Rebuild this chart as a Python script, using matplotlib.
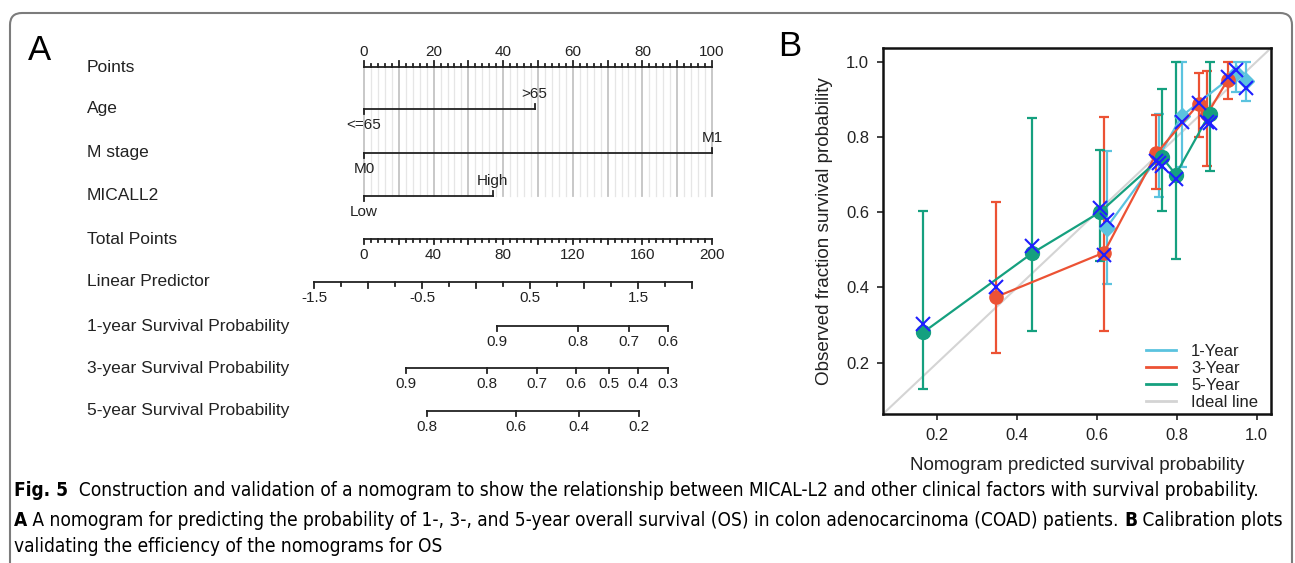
import matplotlib
matplotlib.use("Agg")
import matplotlib.pyplot as plt
from matplotlib import font_manager
from matplotlib.patches import FancyBboxPatch
from matplotlib.transforms import IdentityTransform
from matplotlib.lines import Line2D

# ---------------- Panel A: nomogram scales ----------------
points_labels = [0, 20, 40, 60, 80, 100]
age_levels = ["<=65", ">65"]
age_points = [0, 49]
mstage_levels = ["M0", "M1"]
mstage_points = [0, 100]
micall2_levels = ["Low", "High"]
micall2_points = [0, 37]
total_labels = [0, 40, 80, 120, 160, 200]
lp_ticks = [-1.5, -1.25, -1.0, -0.75, -0.5, -0.25, 0.0, 0.25, 0.5,
            0.75, 1.0, 1.25, 1.5, 1.75, 2.0]
lp_labels = [-1.5, -0.5, 0.5, 1.5]
lp_at_total = (-1.037, 2.185)          # linear predictor at total points 0 and 200

surv1_labels = [0.9, 0.8, 0.7, 0.6]
surv1_lp = [0.194, 0.944, 1.417, 1.778]
surv3_labels = [0.9, 0.8, 0.7, 0.6, 0.5, 0.4, 0.3]
surv3_lp = [-0.648, 0.102, 0.565, 0.926, 1.231, 1.500, 1.778]
surv5_labels = [0.8, 0.6, 0.4, 0.2]
surv5_lp = [-0.454, 0.370, 0.954, 1.509]

# ---------------- Panel B: calibration curves ----------------
cal1_x = [0.624, 0.755, 0.812, 0.949, 0.974]
cal1_y = [0.559, 0.748, 0.855, 0.970, 0.948]
cal1_lo = [0.408, 0.640, 0.720, 0.920, 0.895]
cal1_hi = [0.762, 0.860, 1.000, 1.000, 1.000]
cal1_bc = [0.580, 0.730, 0.840, 0.978, 0.930]

cal3_x = [0.3475, 0.6175, 0.749, 0.855, 0.876, 0.928]
cal3_y = [0.375, 0.4925, 0.756, 0.888, 0.860, 0.952]
cal3_lo = [0.225, 0.284, 0.662, 0.800, 0.722, 0.900]
cal3_hi = [0.627, 0.853, 0.858, 0.970, 0.975, 1.000]
cal3_bc = [0.400, 0.485, 0.735, 0.890, 0.840, 0.960]

cal5_x = [0.165, 0.4375, 0.6075, 0.762, 0.7975, 0.8825]
cal5_y = [0.281, 0.491, 0.600, 0.747, 0.700, 0.862]
cal5_lo = [0.130, 0.284, 0.470, 0.603, 0.475, 0.709]
cal5_hi = [0.602, 0.851, 0.765, 0.926, 1.000, 1.000]
cal5_bc = [0.302, 0.509, 0.610, 0.722, 0.687, 0.838]

c1, c3, c5 = "#5bc3df", "#ec5234", "#15a07f"

W, H = 1295, 563
FONT = "Liberation Sans"
INK = "#222222"

fig = plt.figure(figsize=(W / 100, H / 100), dpi=100)
fig.patch.set_facecolor("white")

# full-figure axes: x in "Points" units, y in pixels from the top
X0, PX = 364, 3.48
ax = fig.add_axes([0, 0, 1, 1])
ax.set_xlim(-X0 / PX, (W - X0) / PX)
ax.set_ylim(H, 0)
ax.axis("off")


def xp(pix):
    return (pix - X0) / PX


def lp_to_pts(v):
    return (v - lp_at_total[0]) / (lp_at_total[1] - lp_at_total[0]) * 100


lab_kw = dict(fontsize=12.5, family=FONT, color=INK, va="center", ha="left")
tick_kw = dict(fontsize=11, family=FONT, color=INK, va="center", ha="center")
lw = 1.3

rows = {"Points": 67, "Age": 109, "M stage": 153, "MICALL2": 196,
        "Total Points": 239, "Linear Predictor": 282,
        "1-year Survival Probability": 326, "3-year Survival Probability": 368,
        "5-year Survival Probability": 411}
for name, y in rows.items():
    ax.text(xp(87), y, name, **lab_kw)

# vertical grid under the points scale
for p in range(0, 101, 2):
    major = p % 10 == 0
    ax.plot([p, p], [rows["Points"], rows["MICALL2"]],
            color="#c4c4c4" if major else "#e6e6e6",
            lw=1.3 if major else 0.9, zorder=0)

# Points axis (ticks point up)
y = rows["Points"]
ax.plot([0, 100], [y, y], color=INK, lw=lw)
for p in range(0, 101, 2):
    ln = 6 if p % 10 == 0 else 3
    ax.plot([p, p], [y, y - ln], color=INK, lw=lw)
for p in points_labels:
    ax.text(p, y - 15, str(p), **tick_kw)

# categorical rows
for (levels, pts), name in zip([(age_levels, age_points), (mstage_levels, mstage_points),
                                (micall2_levels, micall2_points)],
                               ["Age", "M stage", "MICALL2"]):
    y = rows[name]
    ax.plot([pts[0], pts[1]], [y, y], color=INK, lw=lw)
    ax.plot([pts[0], pts[0]], [y, y + 5], color=INK, lw=lw)
    ax.plot([pts[1], pts[1]], [y, y - 5], color=INK, lw=lw)
    ax.text(pts[0], y + 16, levels[0], **tick_kw)
    ax.text(pts[1], y - 15, levels[1], **tick_kw)

# Total points axis (ticks down)
y = rows["Total Points"]
ax.plot([0, 100], [y, y], color=INK, lw=lw)
for t in range(0, 201, 4):
    ln = 5 if t % 20 == 0 else 3
    ax.plot([t / 2, t / 2], [y, y + ln], color=INK, lw=lw)
for t in total_labels:
    ax.text(t / 2, y + 16, str(t), **tick_kw)

# Linear predictor
y = rows["Linear Predictor"]
ax.plot([lp_to_pts(lp_ticks[0]), lp_to_pts(lp_ticks[-1])], [y, y], color=INK, lw=lw)
for i, v in enumerate(lp_ticks):
    ln = 6 if i % 2 == 0 else 3.5
    ax.plot([lp_to_pts(v)] * 2, [y, y + ln], color=INK, lw=lw)
for v in lp_labels:
    ax.text(lp_to_pts(v), y + 16, f"{v:g}", **tick_kw)

# survival probability scales
for name, labs, lps in [("1-year Survival Probability", surv1_labels, surv1_lp),
                        ("3-year Survival Probability", surv3_labels, surv3_lp),
                        ("5-year Survival Probability", surv5_labels, surv5_lp)]:
    y = rows[name]
    xs = [lp_to_pts(v) for v in lps]
    ax.plot([xs[0], xs[-1]], [y, y], color=INK, lw=lw)
    for xv, lb in zip(xs, labs):
        ax.plot([xv, xv], [y, y + 5], color=INK, lw=lw)
        ax.text(xv, y + 16, f"{lb:g}", **tick_kw)

ax.text(xp(28), 50, "A", fontsize=25, family=FONT, color="black", va="center", ha="left")
ax.text(xp(778), 47, "B", fontsize=25, family=FONT, color="black", va="center", ha="left")

# ---------------- Panel B ----------------
bx = fig.add_axes([883 / W, 1 - 414 / H, (1271 - 883) / W, (414 - 48) / H])
bx.set_xlim(0.064, 1.036)
bx.set_ylim(0.064, 1.036)
bx.plot([0, 1.1], [0, 1.1], color="#d4d4d4", lw=1.5, zorder=1)

for xs, ys, lo, hi, bc, col, mk, ms in [
        (cal1_x, cal1_y, cal1_lo, cal1_hi, cal1_bc, c1, "D", 8),
        (cal3_x, cal3_y, cal3_lo, cal3_hi, cal3_bc, c3, "o", 9.5),
        (cal5_x, cal5_y, cal5_lo, cal5_hi, cal5_bc, c5, "o", 10)]:
    yerr = [[yv - l for yv, l in zip(ys, lo)], [h - yv for yv, h in zip(ys, hi)]]
    bx.errorbar(xs, ys, yerr=yerr, fmt="none", ecolor=col, elinewidth=1.6,
                capsize=3.5, capthick=1.6, zorder=2)
    bx.plot(xs, ys, color=col, lw=1.6, marker=mk, ms=ms, mec=col, mfc=col, zorder=3)
    bx.plot(xs, bc, ls="none", marker="x", ms=10.5, mew=1.5, color="#1f1fff", zorder=4)

handles = [Line2D([], [], color=c, lw=2) for c in (c1, c3, c5, "#d4d4d4")]
bx.legend(handles, ["1-Year", "3-Year", "5-Year", "Ideal line"], loc="lower right",
          bbox_to_anchor=(1.005, -0.03), frameon=False, handlelength=1.8, handletextpad=0.9,
          labelspacing=0.12, prop={"family": FONT, "size": 12}, labelcolor=INK)

bx.set_xticks([0.2, 0.4, 0.6, 0.8, 1.0])
bx.set_yticks([0.2, 0.4, 0.6, 0.8, 1.0])
bx.set_xticklabels(["0.2", "0.4", "0.6", "0.8", "1.0"])
bx.set_yticklabels(["0.2", "0.4", "0.6", "0.8", "1.0"])
for lab in bx.get_xticklabels() + bx.get_yticklabels():
    lab.set_family(FONT)
    lab.set_fontsize(12)
    lab.set_color(INK)
bx.tick_params(length=4, width=1.2, color=INK, pad=6)
for sp in bx.spines.values():
    sp.set_linewidth(1.8)
    sp.set_color("#111111")
bx.set_xlabel("Nomogram predicted survival probability", family=FONT, fontsize=13.6,
              color=INK, labelpad=10)
bx.set_ylabel("Observed fraction survival probability", family=FONT, fontsize=13.6,
              color=INK, labelpad=9)

# ---------------- frame and caption ----------------
frame = FancyBboxPatch((10, -40), 1282, H - 13 + 40,
                       boxstyle="round,pad=0,rounding_size=12",
                       transform=IdentityTransform(), fill=False,
                       ec="#7c7c7c", lw=1.5)
fig.add_artist(frame)

names = {(f.name, f.stretch) for f in font_manager.fontManager.ttflist}
cap_kw = {"family": FONT}
if any(n == "Liberation Sans Narrow" for n, s in names):
    cap_kw = {"family": "Liberation Sans Narrow"}
elif ("DejaVu Sans", "condensed") in names:
    cap_kw = {"family": "DejaVu Sans", "stretch": "condensed"}

caption = [
    (491, 1272, [("Fig. 5", "bold"), ("  Construction and validation of a nomogram to show the relationship "
                                      "between MICAL-L2 and other clinical factors with survival probability.",
                                      "normal")]),
    (520, 1269, [("A", "bold"), (" A nomogram for predicting the probability of 1-, 3-, and 5-year overall "
                                 "survival (OS) in colon adenocarcinoma (COAD) patients. ", "normal"),
                 ("B", "bold"), (" Calibration plots", "normal")]),
    (546, None, [("validating the efficiency of the nomograms for OS", "normal")]),
]

renderer = fig.canvas.get_renderer()


def put_line(ypix, runs, size):
    x = 14
    arts = []
    for txt, wt in runs:
        t = fig.text(x / W, 1 - ypix / H, txt, fontsize=size, weight=wt, color="black",
                     va="center", ha="left", **cap_kw)
        x += t.get_window_extent(renderer).width
        arts.append(t)
    return x - 14, arts


sizes = []
for ypix, target, runs in caption:
    if target:
        w0, arts = put_line(ypix, runs, 10)
        for a in arts:
            a.remove()
        sizes.append(10 * target / w0)
size = min(sizes)
for ypix, target, runs in caption:
    put_line(ypix, runs, size)

fig.savefig("out.png", dpi=100, facecolor="white")
